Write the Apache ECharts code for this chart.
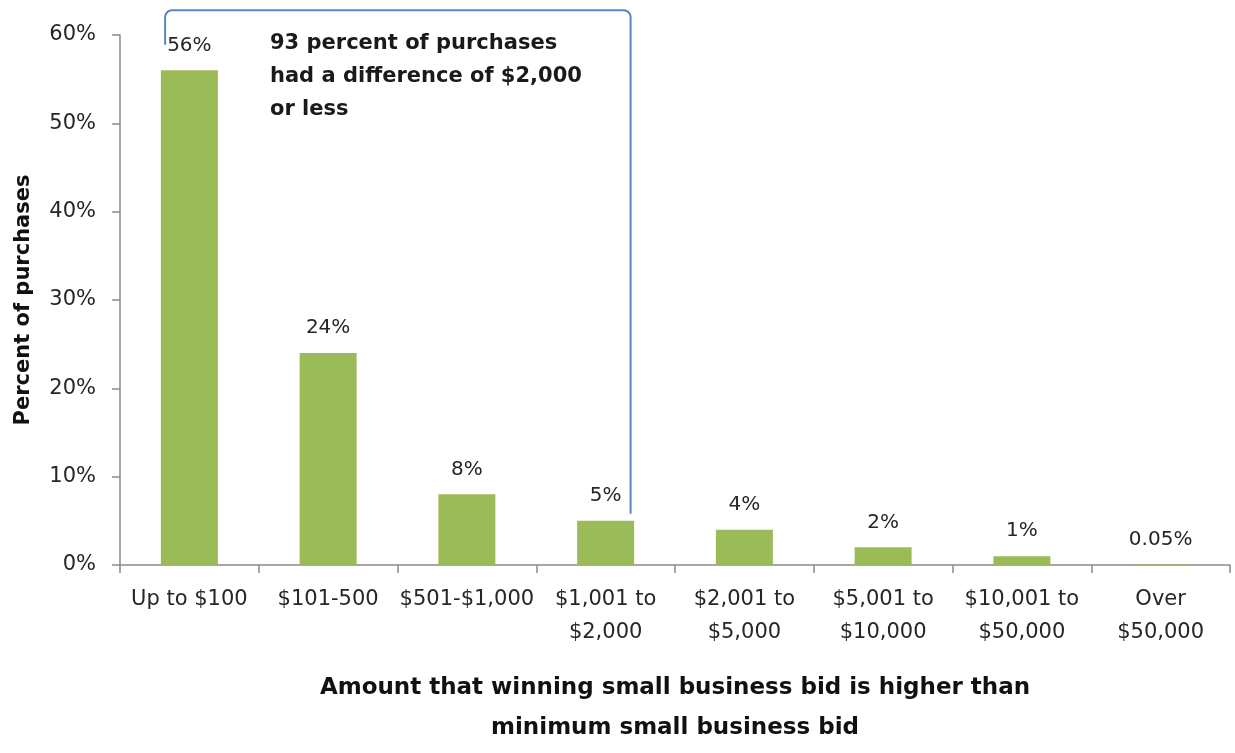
<!DOCTYPE html>
<html>
<head>
<meta charset="utf-8">
<script src="https://cdn.jsdelivr.net/npm/echarts@6/dist/echarts.min.js"></script>
<style>
  html, body { margin: 0; padding: 0; background: #ffffff; }
  #chart { width: 1235px; height: 753px; }
</style>
</head>
<body>
<div id="chart"></div>
<script>
// Size bands of the price difference between winning and minimum bids
const categories = [
  'Up to $100', '$101-500', '$501-$1,000', '$1,001 to\n$2,000',
  '$2,001 to\n$5,000', '$5,001 to\n$10,000', '$10,001 to\n$50,000', 'Over\n$50,000'
];
// Share of purchases in each band (percent)
const shares = [56, 24, 8, 5, 4, 2, 1, 0.05];
// Value-axis ticks (percent)
const yTicks = [0, 10, 20, 30, 40, 50, 60];

const bracketNote = '93 percent of purchases\nhad a difference of $2,000\nor less';

const FONT = '"DejaVu Sans", sans-serif';
const TEXT = '#262626';
const AXIS = '#8a8a8a';

const chart = echarts.init(document.getElementById('chart'));

chart.setOption({
  animation: false,
  grid: { left: 120, right: 5, top: 35, bottom: 178, containLabel: false },
  xAxis: {
    type: 'category',
    data: categories,
    name: 'Amount that winning small business bid is higher than\nminimum small business bid',
    nameLocation: 'middle',
    nameGap: 103,
    nameTextStyle: { fontFamily: FONT, fontSize: 23, fontWeight: 'bold', color: '#111', lineHeight: 40 },
    axisLine: { lineStyle: { color: AXIS, width: 1.5 } },
    axisTick: { show: true, length: 8, lineStyle: { color: AXIS, width: 1.5 } },
    axisLabel: { fontFamily: FONT, fontSize: 21, color: TEXT, margin: 18, lineHeight: 33, interval: 0 }
  },
  yAxis: {
    type: 'value',
    min: yTicks[0],
    max: yTicks[yTicks.length - 1],
    interval: yTicks[1] - yTicks[0],
    name: 'Percent of purchases',
    nameLocation: 'middle',
    nameRotate: 90,
    nameGap: 86,
    nameTextStyle: { fontFamily: FONT, fontSize: 21, fontWeight: 'bold', color: '#111' },
    axisLine: { show: true, lineStyle: { color: AXIS, width: 1.5 } },
    axisTick: { show: true, length: 8, lineStyle: { color: AXIS, width: 1.5 } },
    splitLine: { show: false },
    axisLabel: { fontFamily: FONT, fontSize: 21, color: TEXT, margin: 24, formatter: v => v + '%' }
  },
  series: [{
    type: 'bar',
    data: shares,
    barWidth: 57,
    itemStyle: { color: '#9bbb59' },
    label: {
      show: true,
      position: 'top',
      distance: 15,
      fontFamily: FONT,
      fontSize: 20,
      color: TEXT,
      formatter: p => p.value + '%'
    }
  }]
});

// Quarter-arc corner points for the bracket outline
function corner(cx, cy, r, a0, a1) {
  const pts = [];
  for (let i = 0; i <= 6; i++) {
    const a = a0 + (a1 - a0) * i / 6;
    pts.push([cx + r * Math.cos(a), cy + r * Math.sin(a)]);
  }
  return pts;
}

// Bracket spanning the first four bands, placed from the chart's own scales
function drawBracket() {
  const c0 = chart.convertToPixel({ xAxisIndex: 0 }, categories[0]);
  const c1 = chart.convertToPixel({ xAxisIndex: 0 }, categories[1]);
  const c3 = chart.convertToPixel({ xAxisIndex: 0 }, categories[3]);
  const band = c1 - c0;
  const x0 = c0 - band * 0.175;
  const x1 = c3 + band * 0.18;
  const yTop = chart.convertToPixel({ yAxisIndex: 0 }, 62.8);
  const yLeft = chart.convertToPixel({ yAxisIndex: 0 }, 58.9);
  const yRight = chart.convertToPixel({ yAxisIndex: 0 }, 5.8);
  const r = 7;
  const points = [[x0, yLeft]]
    .concat(corner(x0 + r, yTop + r, r, Math.PI, Math.PI * 1.5))
    .concat(corner(x1 - r, yTop + r, r, Math.PI * 1.5, Math.PI * 2))
    .concat([[x1, yRight]]);
  chart.setOption({
    graphic: [
      {
        type: 'polyline',
        shape: { points: points },
        style: { fill: null, stroke: '#5a86c4', lineWidth: 2 },
        z: 10
      },
      {
        type: 'text',
        left: 270,
        top: 27,
        style: {
          text: bracketNote,
          fontFamily: FONT,
          fontSize: 21,
          fontWeight: 'bold',
          fill: '#1a1a1a',
          lineHeight: 33
        },
        z: 10
      }
    ]
  });
}
drawBracket();
</script>
</body>
</html>
